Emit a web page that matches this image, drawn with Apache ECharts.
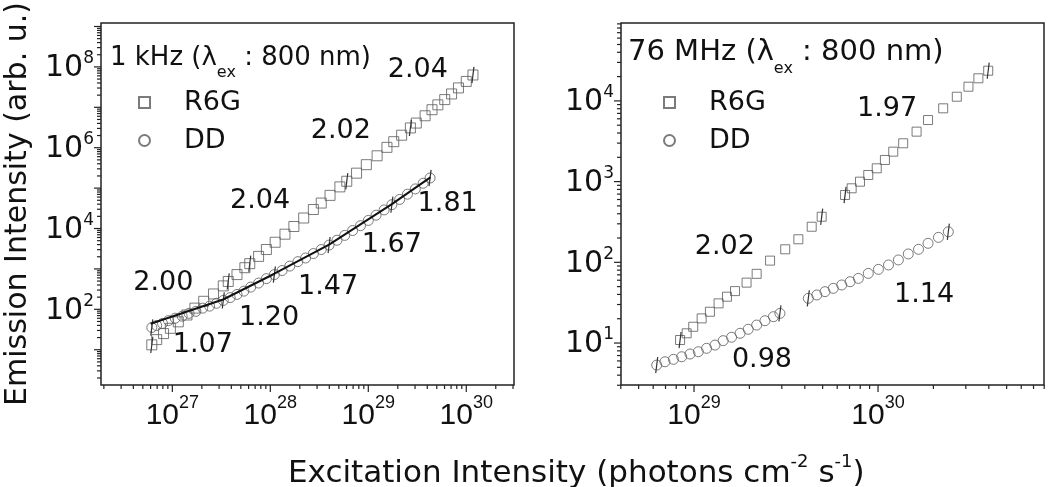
<!DOCTYPE html>
<html><head><meta charset="utf-8">
<script src="https://cdn.jsdelivr.net/npm/echarts@6/dist/echarts.min.js"></script>
<style>html,body{margin:0;padding:0;background:#fff}#c{width:1050px;height:487px}</style>
</head><body><div id="c"></div>
<script>
// ---------- data: left panel (1 kHz) ----------
const leftR6GX = [6.17e26, 6.92e26, 8.13e26, 9.55e26, 1.15e27, 1.41e27, 1.70e27, 2.09e27, 2.63e27, 3.31e27, 3.72e27, 4.57e27, 5.50e27, 6.17e27, 7.59e27, 9.12e27, 1.12e28, 1.41e28, 1.74e28, 2.19e28, 2.75e28, 3.31e28, 4.07e28, 5.13e28, 6.03e28, 7.59e28, 9.55e28, 1.23e29, 1.55e29, 1.82e29, 2.19e29, 2.69e29, 3.09e29, 3.80e29, 4.47e29, 5.13e29, 6.03e29, 7.08e29, 8.32e29, 1.00e30, 1.17e30];
const leftR6GY = [13.2, 17.8, 25.1, 33.9, 49.0, 72.4, 107, 158, 240, 380, 490, 724, 1072, 1349, 2042, 3020, 4571, 7244, 11220, 18200, 29510, 42660, 66070, 107200, 147900, 234400, 380200, 631000, 1.02e6, 1.41e6, 2.04e6, 3.09e6, 4.07e6, 6.17e6, 8.71e6, 1.15e7, 1.55e7, 2.14e7, 3.02e7, 4.37e7, 6.31e7];
const leftDDX = [6.17e26, 6.92e26, 7.94e26, 9.12e26, 1.07e27, 1.26e27, 1.48e27, 1.74e27, 2.04e27, 2.40e27, 2.82e27, 3.31e27, 3.89e27, 4.57e27, 5.37e27, 6.31e27, 7.59e27, 9.12e27, 1.10e28, 1.32e28, 1.58e28, 1.91e28, 2.29e28, 2.75e28, 3.31e28, 3.98e28, 4.79e28, 5.75e28, 6.92e28, 8.32e28, 1.00e29, 1.20e29, 1.45e29, 1.74e29, 2.09e29, 2.51e29, 3.02e29, 3.63e29, 4.27e29];
const leftDDY = [35.5, 39.8, 44.7, 52.5, 60.3, 67.6, 79.4, 89.1, 107, 120, 141, 166, 195, 234, 282, 355, 447, 575, 724, 912, 1175, 1514, 1862, 2399, 3020, 3890, 5129, 6761, 8913, 11750, 15850, 21380, 28840, 38900, 52480, 70790, 95500, 131800, 177800];
const leftFitX = [6.0e26, 3.3e27, 1.1e28, 3.98e28, 1.74e29, 4.3e29];
const leftFitY = [44, 175, 760, 4000, 40000, 185000];
const leftR6GErr = [[6.17e26, 8.3, 20.9], [3.72e27, 309, 777], [6.17e27, 851, 2138], [6.03e28, 93300, 234400], [2.69e29, 1.95e6, 4.9e6], [1.17e30, 3.98e7, 1.0e8]];
const leftDDErr = [[6.17e26, 22.4, 56.3], [3.31e27, 105, 263], [1.10e28, 457, 1148], [3.98e28, 2454, 6166], [1.74e29, 24540, 61660], [4.27e29, 112200, 281800]];
const leftSlopeX = [3.21e29, 5.25e28, 7.85e27, 6.46e29, 1.74e29, 3.89e28, 9.7e27, 8.1e26, 2.05e27];
const leftSlopeY = [8.3e7, 2.57e6, 4.8e4, 4.0e4, 3.9e3, 355, 60, 447, 13.2];
const leftSlopeText = ['2.04', '2.02', '2.04', '1.81', '1.67', '1.47', '1.20', '2.00', '1.07'];

// ---------- data: right panel (76 MHz) ----------
const rightR6GX = [8.4e28, 9.12e28, 9.9e28, 1.10e29, 1.22e29, 1.36e29, 1.51e29, 1.67e29, 1.93e29, 2.19e29, 2.59e29, 3.13e29, 3.69e29, 4.36e29, 4.94e29,
  6.62e29, 7.19e29, 7.98e29, 8.85e29, 9.84e29, 1.09e30, 1.21e30, 1.37e30, 1.62e30, 1.87e30, 2.26e30, 2.68e30, 3.10e30, 3.51e30, 3.97e30];
const rightR6GY = [10.9, 13.2, 15.9, 20.2, 24.4, 31, 37.5, 44, 56, 72, 105, 145, 193, 276, 367,
  683, 826, 998, 1208, 1462, 1854, 2350, 2985, 4159, 5794, 8091, 11272, 15000, 19055, 23660];
const rightDDX = [6.27e28, 6.95e28, 7.73e28, 8.57e28, 9.51e28, 1.055e29, 1.17e29, 1.30e29, 1.44e29, 1.60e29, 1.78e29, 1.97e29, 2.19e29, 2.43e29, 2.70e29, 2.93e29,
  4.18e29, 4.65e29, 5.15e29, 5.71e29, 6.35e29, 7.05e29, 7.82e29, 8.85e29, 1.005e30, 1.14e30, 1.29e30, 1.46e30, 1.66e30, 1.87e30, 2.13e30, 2.41e30];
const rightDDY = [5.33, 5.86, 6.28, 6.76, 7.31, 7.8, 8.6, 9.44, 10.7, 11.8, 13.2, 14.8, 16.7, 18.9, 21.2, 23.3,
  35.8, 39.4, 43.3, 47.6, 52.4, 57.5, 63.2, 72.9, 81.8, 92.7, 107, 127, 145, 172, 204, 239];
const rightR6GErr = [[8.4e28, 8.65, 13.7], [4.94e29, 291, 462], [6.62e29, 542, 860], [3.97e30, 18800, 29800]];
const rightDDErr = [[6.27e28, 4.23, 6.71], [2.93e29, 18.5, 29.3], [4.18e29, 28.4, 45.1], [2.41e30, 190, 301]];
const rightSlopeX = [1.12e30, 1.47e29, 1.78e30, 2.34e29];
const rightSlopeY = [7900, 155, 39, 6.2];
const rightSlopeText = ['1.97', '2.02', '1.14', '0.98'];

// ---------- axes: ranges and decade ticks ----------
const leftXRange = [1.87e26, 3.07e30];
const leftYRange = [1.34, 1.22e9];
const rightXRange = [4.01e28, 7.98e30];
const rightYRange = [3.02, 9.23e4];
const leftXDecades = [26, 27, 28, 29, 30];
const leftYDecades = [0, 1, 2, 3, 4, 5, 6, 7, 8, 9];
const rightXDecades = [28, 29, 30];
const rightYDecades = [0, 1, 2, 3, 4];

const FONT = 'DejaVu Sans';
const MARK = '#5a5a5a';
const INK = '#111';

function zip(xs, ys) { return xs.map((x, i) => [x, ys[i]]); }

function powLabel(fontFamily, size, supSize, basePad, evenOnly) {
  return {
    formatter: function (v) {
      const e = Math.log10(v), r = Math.round(e);
      if (Math.abs(e - r) > 1e-6) return '';
      if (evenOnly && r % 2 !== 0) return '';
      return '{b|10}{s|' + r + '}';
    },
    rich: {
      b: { fontFamily: fontFamily, fontSize: size, color: INK, verticalAlign: 'top', padding: [basePad, 0, 0, 0] },
      s: { fontFamily: fontFamily, fontSize: supSize, color: INK, verticalAlign: 'top', padding: [0, 0, 0, 0] }
    }
  };
}

function tickSeries(axis, gi, decades, other) {
  const data = [];
  decades.forEach(function (d) {
    for (let k = 1; k <= 9; k++) {
      const v = k * Math.pow(10, d);
      data.push(axis === 'x' ? [v, other, k === 1 ? 1 : 0] : [other, v, k === 1 ? 1 : 0]);
    }
  });
  return {
    type: 'custom', xAxisIndex: gi, yAxisIndex: gi, silent: true, z: 6, data: data,
    renderItem: function (params, api) {
      const cs = params.coordSys;
      const p = api.coord([api.value(0), api.value(1)]);
      const len = api.value(2) ? 7 : 4;
      const st = { stroke: '#222', lineWidth: 1.2 };
      if (axis === 'x') {
        if (p[0] < cs.x - 0.5 || p[0] > cs.x + cs.width + 0.5) return null;
        const yb = cs.y + cs.height;
        return { type: 'line', shape: { x1: p[0], y1: yb, x2: p[0], y2: yb + len }, style: st };
      }
      if (p[1] < cs.y - 0.5 || p[1] > cs.y + cs.height + 0.5) return null;
      return { type: 'line', shape: { x1: cs.x, y1: p[1], x2: cs.x - len, y2: p[1] }, style: st };
    }
  };
}

function errSeries(gi, arr) {
  return {
    type: 'custom', xAxisIndex: gi, yAxisIndex: gi, silent: true, z: 4, data: arr,
    encode: { x: 0, y: [1, 2] },
    renderItem: function (params, api) {
      const a = api.coord([api.value(0), api.value(1)]);
      const b = api.coord([api.value(0), api.value(2)]);
      return { type: 'line', shape: { x1: a[0] - 1, y1: a[1], x2: b[0] + 1, y2: b[1] }, style: { stroke: '#333', lineWidth: 1.2 } };
    }
  };
}

function slopeSeries(gi, xs, ys, texts) {
  return {
    type: 'custom', xAxisIndex: gi, yAxisIndex: gi, silent: true, z: 7,
    data: zip(xs, ys),
    renderItem: function (params, api) {
      const p = api.coord([api.value(0), api.value(1)]);
      return {
        type: 'text', x: p[0], y: p[1],
        style: { text: texts[params.dataIndex], fontFamily: FONT, fontSize: 27, fill: INK, align: 'center', verticalAlign: 'middle' }
      };
    }
  };
}

function marker(name, gi, xs, ys, symbol, size) {
  return {
    name: name, type: 'scatter', xAxisIndex: gi, yAxisIndex: gi, symbol: symbol, symbolSize: size,
    data: zip(xs, ys), z: 3,
    itemStyle: { color: 'rgba(0,0,0,0)', borderColor: MARK, borderWidth: 1 }
  };
}

function xAxisCfg(gi, range, labelCfg) {
  return {
    type: 'log', logBase: 10, gridIndex: gi, min: range[0], max: range[1],
    axisLine: { show: false }, axisTick: { show: false }, splitLine: { show: false }, minorTick: { show: false },
    axisLabel: Object.assign({ margin: 9 }, labelCfg)
  };
}
function yAxisCfg(gi, range, labelCfg, extra) {
  return Object.assign({
    type: 'log', logBase: 10, gridIndex: gi, min: range[0], max: range[1],
    axisLine: { show: false }, axisTick: { show: false }, splitLine: { show: false }, minorTick: { show: false },
    axisLabel: Object.assign({ margin: 7 }, labelCfg)
  }, extra || {});
}

const legendBase = {
  orient: 'vertical', itemWidth: 11, itemHeight: 11, itemGap: 9, selectedMode: false,
  data: ['R6G', 'DD'],
  textStyle: { fontFamily: FONT, fontSize: 27, color: INK, lineHeight: 29, padding: [0, 0, 0, 29] }
};

function panelTitle(left, top, size, txt) {
  return {
    text: txt, left: left, top: top,
    textStyle: {
      fontWeight: 'normal',
      rich: {
        a: { fontFamily: FONT, fontSize: size, fontWeight: 'normal', color: INK, verticalAlign: 'top' },
        s: { fontFamily: FONT, fontSize: 16, fontWeight: 'normal', color: INK, verticalAlign: 'top', padding: [Math.round(size * 0.78), 0, 0, 0] }
      }
    }
  };
}

const option = {
  backgroundColor: '#fff',
  animation: false,
  grid: [
    { left: 101, top: 23, width: 413, height: 362, show: true, borderColor: '#222', borderWidth: 1.5, backgroundColor: 'transparent' },
    { left: 621, top: 23, width: 423, height: 362, show: true, borderColor: '#222', borderWidth: 1.5, backgroundColor: 'transparent' }
  ],
  title: [
    panelTitle(105, 40, 26, '{a|1 kHz (λ}{s|ex}{a| : 800 nm)}'),
    panelTitle(623, 33, 29, '{a|76 MHz (λ}{s|ex}{a| : 800 nm)}'),
    {
      text: '{a|Excitation Intensity (photons cm}{s|-2}{a| s}{s|-1}{a|)}', left: 283, top: 448,
      textStyle: {
        fontWeight: 'normal',
        rich: {
          a: { fontFamily: FONT, fontSize: 31, fontWeight: 'normal', color: INK, verticalAlign: 'top', padding: [5, 0, 0, 0] },
          s: { fontFamily: FONT, fontSize: 18, fontWeight: 'normal', color: INK, verticalAlign: 'top' }
        }
      }
    }
  ],
  legend: [
    Object.assign({}, legendBase, { left: 133, top: 83 }),
    Object.assign({}, legendBase, { left: 658, top: 83 })
  ],
  xAxis: [
    xAxisCfg(0, leftXRange, powLabel('Liberation Sans', 30, 18, 7, false)),
    xAxisCfg(1, rightXRange, powLabel('Liberation Sans', 30, 18, 7, false))
  ],
  yAxis: [
    yAxisCfg(0, leftYRange, powLabel(FONT, 30, 17, 3, true), {
      name: 'Emission Intensity (arb. u.)', nameLocation: 'middle', nameRotate: 90, nameGap: 68,
      nameTextStyle: { fontFamily: FONT, fontSize: 30, color: INK }
    }),
    yAxisCfg(1, rightYRange, powLabel(FONT, 30, 17, 3, false))
  ],
  series: [
    marker('R6G', 0, leftR6GX, leftR6GY, 'rect', 10),
    marker('DD', 0, leftDDX, leftDDY, 'circle', 10),
    {
      name: 'DD fit', type: 'line', xAxisIndex: 0, yAxisIndex: 0, data: zip(leftFitX, leftFitY),
      showSymbol: false, symbol: 'none', z: 5, lineStyle: { color: '#111', width: 2 }, silent: true
    },
    errSeries(0, leftR6GErr),
    errSeries(0, leftDDErr),
    slopeSeries(0, leftSlopeX, leftSlopeY, leftSlopeText),
    marker('R6G', 1, rightR6GX, rightR6GY, 'rect', 9),
    marker('DD', 1, rightDDX, rightDDY, 'circle', 10),
    errSeries(1, rightR6GErr),
    errSeries(1, rightDDErr),
    slopeSeries(1, rightSlopeX, rightSlopeY, rightSlopeText),
    tickSeries('x', 0, leftXDecades, leftYRange[1]),
    tickSeries('y', 0, leftYDecades, leftXRange[1]),
    tickSeries('x', 1, rightXDecades, rightYRange[1]),
    tickSeries('y', 1, rightYDecades, rightXRange[1])
  ]
};

const chart = echarts.init(document.getElementById('c'), null, { renderer: 'canvas' });
chart.setOption(option);
</script>
</body></html>
